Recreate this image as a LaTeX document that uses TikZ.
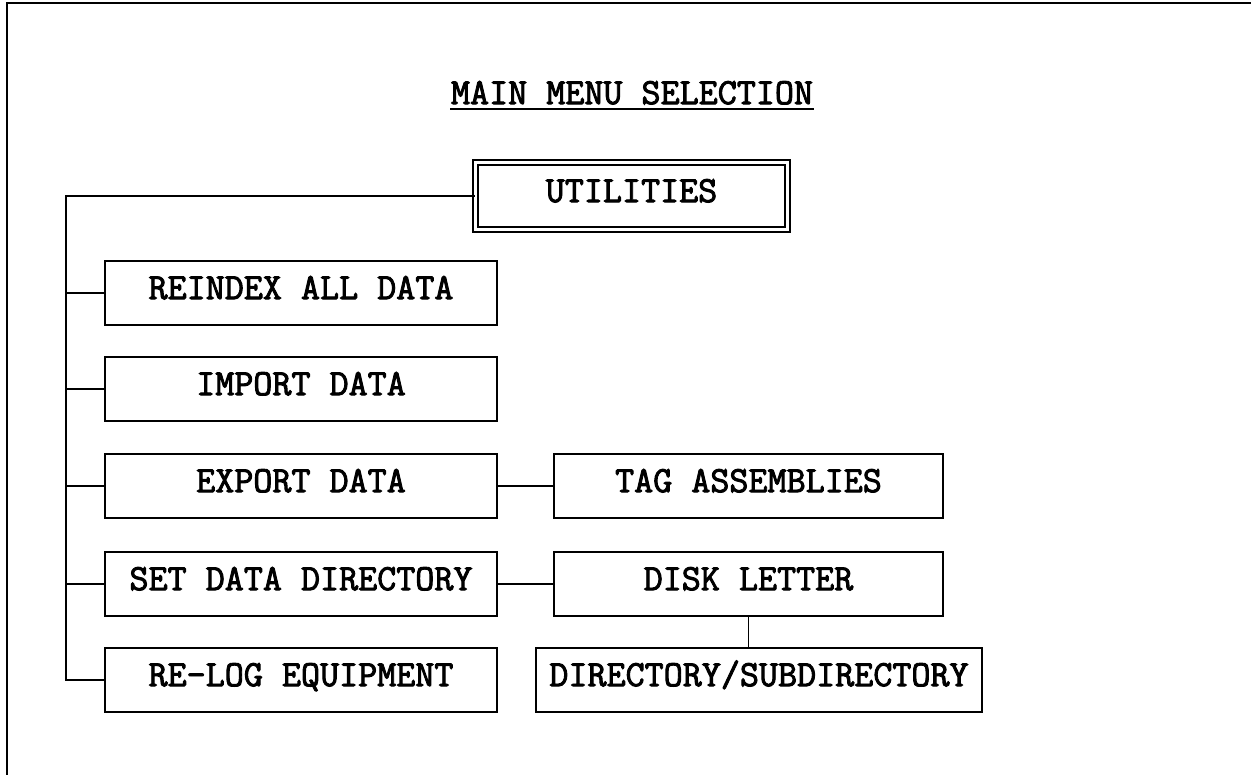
\documentclass[tikz,border=0pt]{standalone}
\usepackage{fontspec}
\newfontfamily\courfont[FakeBold=2.5]{Latin Modern Mono}
\begin{document}
\begin{tikzpicture}[x=0.5pt,y=-0.5pt,line width=0.75pt,
  lbl/.style={font=\courfont\fontsize{18.5}{21}\selectfont, text height=0.61em, text depth=0pt, inner sep=0pt},
  menubox/.style={draw, rectangle, inner sep=0pt, minimum height=32pt, lbl},
  leftbox/.style={menubox, minimum width=196pt},
  rightbox/.style={menubox, minimum width=194.5pt},
]
\useasboundingbox (0,0) rectangle (1251,775);
% frame (top and left edges)
\draw[line width=1pt] (7,775) -- (7,3) -- (1251,3);
% title
\node[lbl] (title) at (632,98) {MAIN MENU SELECTION};
\draw ([yshift=-2pt]title.south west) -- ([yshift=-2pt]title.south east);
% top node
\node[draw, double, double distance=1.75pt, rectangle, inner sep=0pt,
      minimum width=156pt, minimum height=33.5pt, lbl] (util) at (631.5,196) {UTILITIES};
% left column
\node[leftbox] (reindex) at (301,293) {REINDEX ALL DATA};
\node[leftbox] (import)  at (301,389) {IMPORT DATA};
\node[leftbox] (export)  at (301,486) {EXPORT DATA};
\node[leftbox] (setdir)  at (301,584) {SET DATA DIRECTORY};
\node[leftbox] (relog)   at (301,680) {RE-LOG EQUIPMENT};
% right column
\node[rightbox] (tag)  at (748.5,486) {TAG ASSEMBLIES};
\node[rightbox] (disk) at (748.5,584) {DISK LETTER};
\node[menubox, minimum width=223pt] (dir) at (759,680) {DIRECTORY/SUBDIRECTORY};
% connectors
\coordinate (trunk) at (66,196);
\draw (util.west) -- (trunk) |- (relog.west);
\draw (trunk |- reindex.west) -- (reindex.west);
\draw (trunk |- import.west) -- (import.west);
\draw (trunk |- export.west) -- (export.west);
\draw (trunk |- setdir.west) -- (setdir.west);
\draw (export.east) -- (tag.west);
\draw (setdir.east) -- (disk.west);
\draw (disk.south) -- (disk.south |- dir.north);
\end{tikzpicture}
\end{document}
